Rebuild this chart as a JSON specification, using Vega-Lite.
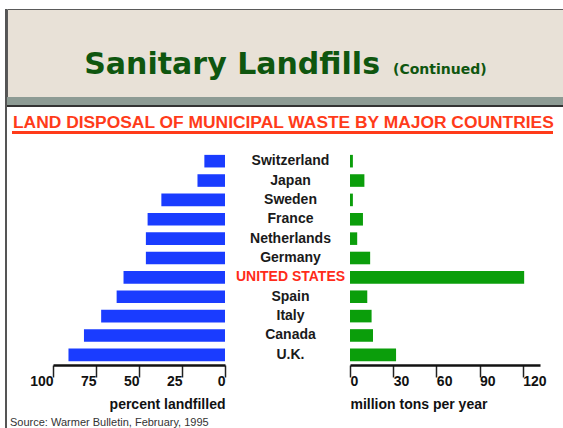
{
  "$schema": "https://vega.github.io/schema/vega-lite/v6.json",
  "padding": {"left": 5, "top": 8, "right": 0, "bottom": 0},
  "background": "white",
  "config": {
    "view": {"stroke": null},
    "font": "Liberation Sans",
    "axis": {"grid": false}
  },
  "datasets": {
    "landfill": [
      {"country": "Switzerland", "percent": 12, "tons": 2},
      {"country": "Japan", "percent": 16, "tons": 10},
      {"country": "Sweden", "percent": 37, "tons": 2},
      {"country": "France", "percent": 45, "tons": 9},
      {"country": "Netherlands", "percent": 46, "tons": 5},
      {"country": "Germany", "percent": 46, "tons": 14},
      {"country": "UNITED STATES", "percent": 59, "tons": 121},
      {"country": "Spain", "percent": 63, "tons": 12},
      {"country": "Italy", "percent": 72, "tons": 15},
      {"country": "Canada", "percent": 82, "tons": 16},
      {"country": "U.K.", "percent": 91, "tons": 32}
    ]
  },
  "bounds": "flush",
  "spacing": 0,
  "hconcat": [
    {
      "width": 2, "height": 420,
      "view": {"fill": "#555555", "stroke": null},
      "data": {"values": [{}]},
      "mark": {"type": "text", "text": ""}
    },
    {
      "bounds": "flush",
      "spacing": 0,
      "vconcat": [
        {
          "width": 556, "height": 88,
          "view": {"fill": "#e8e1d7", "stroke": "#5a5a5a"},
          "data": {"values": [{}]},
          "layer": [
            {"mark": {"type": "text", "text": "Sanitary Landfills", "align": "right", "baseline": "alphabetic", "dx": 95, "dy": 21, "font": "DejaVu Sans", "fontWeight": "bold", "fontSize": 30, "color": "#0f560f"}},
            {"mark": {"type": "text", "text": "(Continued)", "align": "left", "baseline": "alphabetic", "dx": 108, "dy": 21, "font": "DejaVu Sans", "fontWeight": "bold", "fontSize": 14, "color": "#0f560f"}}
          ]
        },
        {
          "width": 556, "height": 8,
          "view": {"fill": "#8d9b94", "stroke": null},
          "data": {"values": [{}]},
          "mark": {"type": "text", "text": ""}
        },
        {
          "width": 556, "height": 2,
          "view": {"fill": "#333333", "stroke": null},
          "data": {"values": [{}]},
          "mark": {"type": "text", "text": ""}
        },
        {
          "width": 12, "height": 24,
          "data": {"values": [{}]},
          "mark": {"type": "text", "text": "LAND DISPOSAL OF MUNICIPAL WASTE BY MAJOR COUNTRIES", "align": "left", "baseline": "alphabetic", "dy": 9, "font": "Liberation Sans", "fontSize": 17.4, "fontWeight": "bold", "color": "#ff3b1a"}
        },
        {
          "bounds": "flush",
          "spacing": 0,
          "hconcat": [
            {
              "width": 5, "height": 3,
              "data": {"values": [{}]},
              "mark": {"type": "text", "text": ""}
            },
            {
              "width": 541, "height": 3,
              "view": {"fill": "#ff3b1a", "stroke": null},
              "data": {"values": [{}]},
              "mark": {"type": "text", "text": ""}
            }
          ]
        },
        {
          "width": 1, "height": 20,
          "data": {"values": [{}]},
          "mark": {"type": "text", "text": ""}
        },
        {
          "bounds": "flush",
          "spacing": 0,
          "hconcat": [
            {
              "width": 46, "height": 214,
              "data": {"values": [{}]},
              "mark": {"type": "text", "text": ""}
            },
            {
              "bounds": "flush",
              "spacing": 125,
              "hconcat": [
                {
                  "width": 172, "height": 214,
                  "data": {"name": "landfill"},
                  "title": {"text": "Source: Warmer Bulletin, February, 1995", "orient": "bottom", "anchor": "start", "frame": "group", "dx": -43, "offset": 6, "font": "Liberation Sans", "fontSize": 11, "fontWeight": "normal", "color": "#333333"},
                  "mark": {"type": "bar", "color": "#1a3cff"},
                  "encoding": {
                    "y": {"field": "country", "type": "nominal", "sort": null, "axis": null, "scale": {"paddingInner": 0.35, "paddingOuter": 0.2}},
                    "x": {
                      "field": "percent", "type": "quantitative",
                      "scale": {"domain": [0, 100], "reverse": true, "nice": false},
                      "axis": {
                        "values": [0, 25, 50, 75, 100],
                        "tickSize": 12, "tickColor": "#222222", "tickWidth": 1.5,
                        "domainColor": "#111111", "domainWidth": 2.5,
                        "labelAlign": "right", "labelDx": -2, "labelPadding": -3, "labelFlush": false, "labelOverlap": false,
                        "labelFont": "Liberation Sans", "labelFontWeight": "bold", "labelFontSize": 14, "labelColor": "#111111",
                        "title": "percent landfilled", "titleFont": "Liberation Sans", "titleFontWeight": "bold", "titleFontSize": 14, "titleColor": "#111111",
                        "titleAnchor": "start", "titleAlign": "right", "titlePadding": 9
                      }
                    }
                  }
                },
                {
                  "width": 190, "height": 214,
                  "data": {"name": "landfill"},
                  "mark": {"type": "bar", "color": "#0b9e0b"},
                  "encoding": {
                    "y": {
                      "field": "country", "type": "nominal", "sort": null,
                      "scale": {"paddingInner": 0.35, "paddingOuter": 0.2},
                      "axis": {
                        "title": null, "ticks": false, "domain": false,
                        "labelAlign": "center", "labelBaseline": "middle", "labelPadding": 60,
                        "labelFont": "Liberation Sans", "labelFontWeight": "bold", "labelFontSize": 14,
                        "labelColor": {"condition": {"test": "datum.value === 'UNITED STATES'", "value": "#ff2b1a"}, "value": "#1a1a1a"}
                      }
                    },
                    "x": {
                      "field": "tons", "type": "quantitative",
                      "scale": {"domain": [0, 132], "nice": false},
                      "axis": {
                        "values": [0, 30, 60, 90, 120],
                        "tickSize": 12, "tickColor": "#222222", "tickWidth": 1.5,
                        "domainColor": "#111111", "domainWidth": 2.5,
                        "labelAlign": "left", "labelDx": 4, "labelPadding": -3, "labelFlush": false, "labelOverlap": false,
                        "labelFont": "Liberation Sans", "labelFontWeight": "bold", "labelFontSize": 14, "labelColor": "#111111",
                        "title": "million tons per year", "titleFont": "Liberation Sans", "titleFontWeight": "bold", "titleFontSize": 14, "titleColor": "#111111",
                        "titleAnchor": "start", "titleAlign": "left", "titlePadding": 9
                      }
                    }
                  }
                }
              ]
            }
          ]
        }
      ]
    }
  ]
}
